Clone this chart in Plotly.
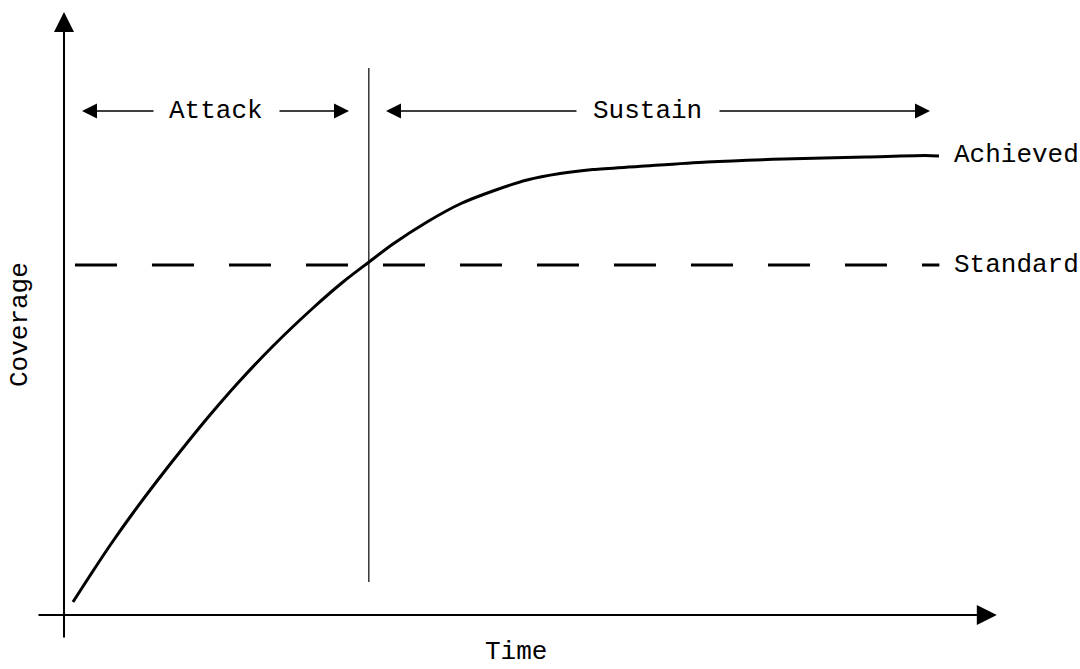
import plotly.graph_objects as go

# ---- data (time units, coverage fraction) ----
time = [0.103, 0.333, 0.563, 0.792, 1.068, 1.412, 1.676, 1.986, 2.4, 2.859, 3.203, 3.502,
        3.777, 4.168, 4.546, 4.925, 5.316, 5.695, 6.073, 6.59, 7.382, 8.266, 9.208, 9.885, 10.046]
coverage = [0.026, 0.088, 0.148, 0.204, 0.268, 0.344, 0.400, 0.462, 0.538, 0.614, 0.666, 0.706,
            0.742, 0.786, 0.822, 0.848, 0.870, 0.883, 0.891, 0.897, 0.906, 0.912, 0.916, 0.919, 0.918]
standard_level = 0.70
standard_span = [0.126, 10.05]
attack_end = 3.5
phase_labels = ["Attack", "Sustain"]
line_labels = ["Achieved", "Standard"]
axis_titles = ["Time", "Coverage"]

FONT = dict(family="Liberation Mono, Courier New, monospace", size=26, color="black")

fig = go.Figure()

# achieved coverage curve
fig.add_trace(go.Scatter(x=time, y=coverage, mode="lines",
                         line=dict(color="black", width=3, shape="spline", smoothing=0.8),
                         hoverinfo="skip", showlegend=False))
# standard (dashed)
fig.add_trace(go.Scatter(x=standard_span, y=[standard_level, standard_level], mode="lines",
                         line=dict(color="black", width=3, dash="42px,35px"), hoverinfo="skip", showlegend=False))
# attack / sustain divider
fig.add_trace(go.Scatter(x=[attack_end, attack_end], y=[0.066, 1.094], mode="lines",
                         line=dict(color="black", width=1.2), hoverinfo="skip", showlegend=False))

annots = []

def arrow(x0, y0, x1, y1, width, size, head=2):
    annots.append(dict(x=x1, y=y1, ax=x0, ay=y0, xref="x", yref="y", axref="x", ayref="y",
                       text="", showarrow=True, arrowhead=head, arrowsize=size, arrowwidth=width,
                       arrowcolor="black", standoff=0, startstandoff=0))

# axes with arrowheads
arrow(-0.31, 0.0, 10.71, 0.0, 2, 2.0)
arrow(0.0, -0.048, 0.0, 1.206, 2, 2.0)

# phase arrows
ya = 1.008
arrow(1.045, ya, 0.207, ya, 1.5, 2.0)
arrow(2.457, ya, 3.272, ya, 1.5, 2.0)
arrow(5.901, ya, 3.697, ya, 1.5, 2.0)
arrow(7.509, ya, 9.943, ya, 1.5, 2.0)

annots.append(dict(x=1.75, y=ya, text=phase_labels[0], showarrow=False, font=FONT, xanchor="center", yanchor="middle"))
annots.append(dict(x=6.70, y=ya, text=phase_labels[1], showarrow=False, font=FONT, xanchor="center", yanchor="middle"))

annots.append(dict(x=10.195, y=0.92, text=line_labels[0], showarrow=False, font=FONT, xanchor="left", yanchor="middle"))
annots.append(dict(x=10.195, y=standard_level, text=line_labels[1], showarrow=False, font=FONT, xanchor="left", yanchor="middle"))

annots.append(dict(x=5.19, y=-0.108, text=axis_titles[0], showarrow=False, font=FONT, xanchor="center", yanchor="bottom"))
annots.append(dict(x=-0.505, y=0.58, text=axis_titles[1], showarrow=False, font=FONT, textangle=-90,
                   xanchor="center", yanchor="middle"))

fig.update_layout(
    width=1080, height=669,
    margin=dict(l=0, r=0, t=0, b=0),
    paper_bgcolor="white", plot_bgcolor="white",
    xaxis=dict(range=[-0.7348, 11.665], visible=False, fixedrange=True),
    yaxis=dict(range=[-0.108, 1.23], visible=False, fixedrange=True),
    annotations=annots,
    showlegend=False,
)

fig.write_html("out.html", config={"displayModeBar": False},
               post_script="document.body.style.margin='0';document.body.style.overflow='hidden';")
